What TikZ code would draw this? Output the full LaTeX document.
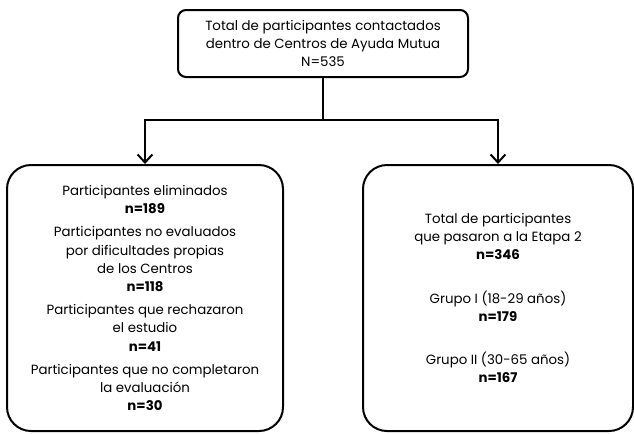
\documentclass[tikz,border=0pt]{standalone}
\usepackage{fontspec}
\setmainfont{Poppins}
\usetikzlibrary{arrows.meta}

\tikzset{every picture/.style={line width=1.5pt}}

\begin{document}
\begin{tikzpicture}[x=0.75pt,y=0.75pt,yscale=-1,xscale=1,
  caja/.style={draw, rounded corners=18pt, align=center, inner sep=0pt,
    font=\fontsize{10}{13.6}\selectfont},
  flecha/.style={-{Straight Barb[length=6pt,width=11pt,line width=1.5pt]}}]
\useasboundingbox (0,0) rectangle (634,433);

% Text Node
\node[caja, rounded corners=6pt, minimum width=217.5pt, minimum height=50.25pt] (total) at (323,43.5)
  {Total de participantes contactados\\dentro de Centros de Ayuda Mutua\\N=535};
% Text Node
\node[caja, minimum width=207pt, minimum height=199.5pt] (elim) at (145,298)
  {Participantes eliminados\\\textbf{n=189}\\[4pt]
   Participantes no evaluados\\por dificultades propias\\de los Centros\\\textbf{n=118}\\[4pt]
   Participantes que rechazaron\\el estudio\\\textbf{n=41}\\[4pt]
   Participantes que no completaron\\la evaluación\\\textbf{n=30}};
% Text Node
\node[caja, minimum width=202.5pt, minimum height=199.5pt] (etapa) at (498,298)
  {Total de participantes\\que pasaron a la Etapa 2\\\textbf{n=346}\\[19pt]
   Grupo I (18-29 años)\\\textbf{n=179}\\[19pt]
   Grupo II (30-65 años)\\\textbf{n=167}};

%Straight Lines
\coordinate (rama) at (323,120);
\draw (total.south) -- (rama);
\draw[flecha] (rama) -| (elim.north);
\draw[flecha] (rama) -| (etapa.north);

\end{tikzpicture}
\end{document}
